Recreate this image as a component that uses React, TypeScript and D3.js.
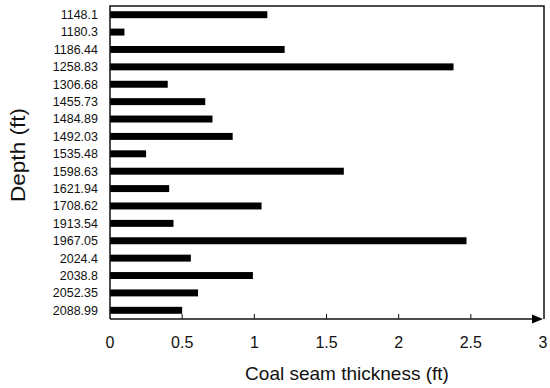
import * as d3 from "d3"

const depths = [
  "1148.1", "1180.3", "1186.44", "1258.83", "1306.68", "1455.73", "1484.89", "1492.03", "1535.48",
  "1598.63", "1621.94", "1708.62", "1913.54", "1967.05", "2024.4", "2038.8", "2052.35", "2088.99",
]
const thickness = [1.09, 0.1, 1.21, 2.38, 0.4, 0.66, 0.71, 0.85, 0.25, 1.62, 0.41, 1.05, 0.44, 2.47, 0.56, 0.99, 0.61, 0.5]
const xTicks = [0, 0.5, 1, 1.5, 2, 2.5, 3]

const W = 550
const H = 388
const margin = { top: 6, right: 6, bottom: 69, left: 110 }
const font = "'Liberation Sans', Arial, sans-serif"

export default function App() {
  const x = d3.scaleLinear().domain([0, 3]).range([margin.left, W - margin.right - 1])
  const y = d3
    .scaleBand<string>()
    .domain(depths)
    .range([margin.top, H - margin.bottom])
    .paddingInner(0.6)
    .paddingOuter(0.3)
  const bottom = H - margin.bottom
  const right = W - margin.right

  return (
    <svg width={W} height={H} style={{ position: "absolute", left: 0, top: 0, background: "#fff" }}>
      {/* bars */}
      {depths.map((d, i) => (
        <rect key={d} x={x(0)} y={y(d)} width={x(thickness[i]) - x(0)} height={y.bandwidth()} fill="#000" />
      ))}
      {/* frame */}
      <path
        d={`M${margin.left},${bottom} V${margin.top} H${right} V${bottom}`}
        fill="none"
        stroke="#111"
        strokeWidth={1.5}
      />
      <line x1={margin.left} x2={x(3) - 8} y1={bottom} y2={bottom} stroke="#111" strokeWidth={1.5} />
      <path d={`M${x(3)},${bottom} l-11,-4.5 v9 z`} fill="#000" />
      {xTicks.slice(1, -1).map((t) => (
        <line key={t} x1={x(t)} x2={x(t)} y1={bottom} y2={bottom - 5} stroke="#111" strokeWidth={1} />
      ))}
      {/* y tick labels */}
      {depths.map((d) => (
        <text
          key={d}
          x={margin.left - 12}
          y={(y(d) ?? 0) + y.bandwidth() / 2}
          dy="0.35em"
          textAnchor="end"
          fontFamily={font}
          fontSize={12.5}
          fill="#111"
        >
          {d}
        </text>
      ))}
      {/* x tick labels */}
      {xTicks.map((t) => (
        <text key={t} x={x(t)} y={bottom + 29} textAnchor="middle" fontFamily={font} fontSize={16} fill="#111">
          {t}
        </text>
      ))}
      <text x={347} y={H - 8} textAnchor="middle" fontFamily={font} fontSize={19} fill="#111">
        Coal seam thickness (ft)
      </text>
      <text
        transform={`translate(25,155) rotate(-90)`}
        textAnchor="middle"
        fontFamily={font}
        fontSize={20}
        textLength={94}
        lengthAdjust="spacingAndGlyphs"
        fill="#111"
      >
        Depth (ft)
      </text>
    </svg>
  )
}
